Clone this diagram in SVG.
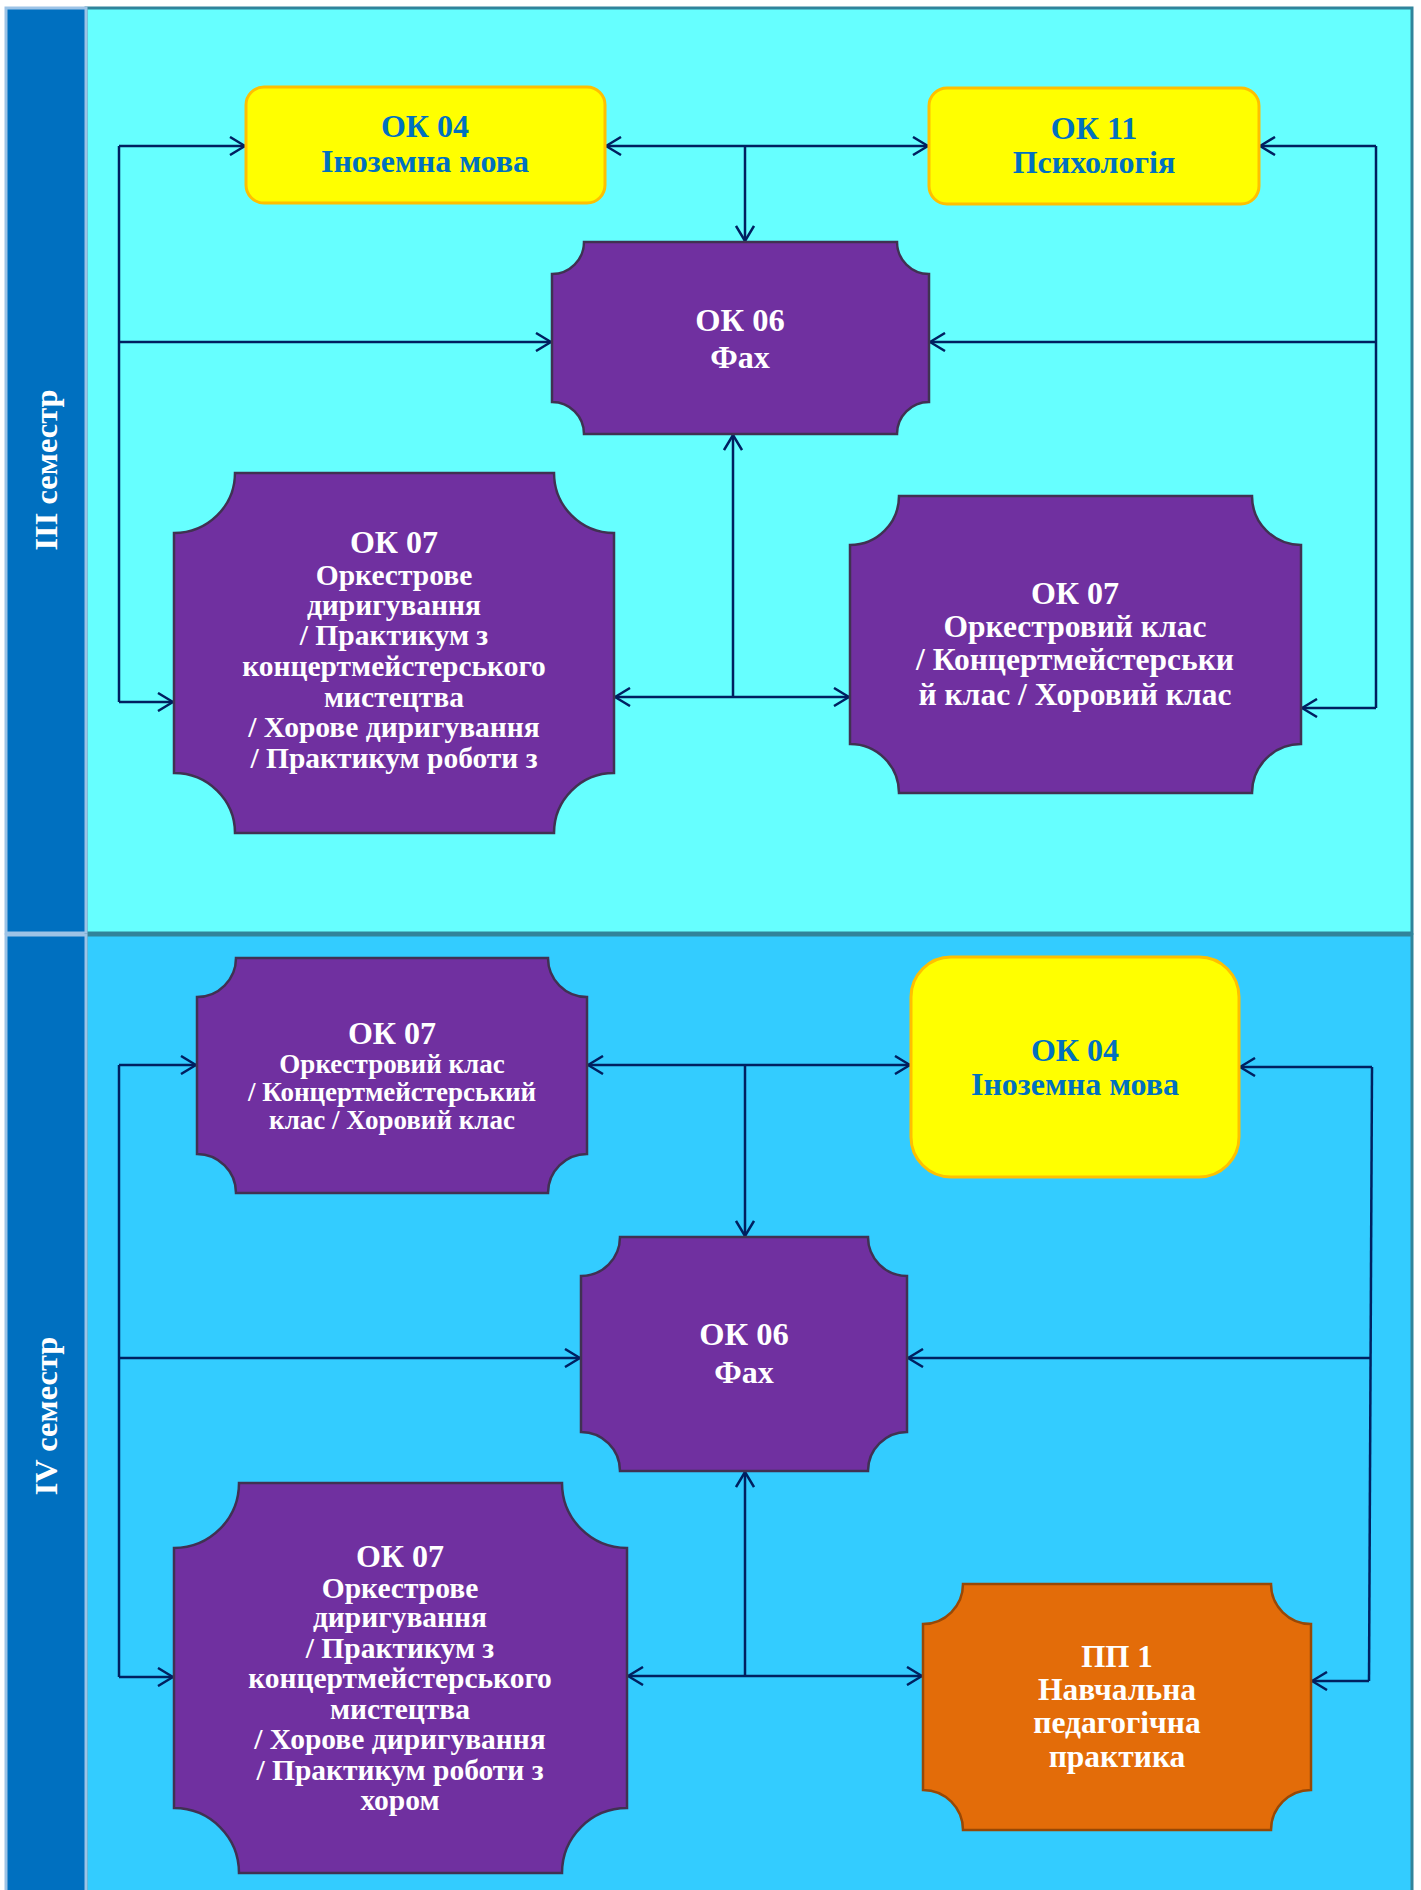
<svg xmlns="http://www.w3.org/2000/svg" width="1421" height="1890" viewBox="0 0 1421 1890">
<style>
.lane{stroke:#9DC3E6;stroke-width:3;fill:#0070C0}
.p1{fill:#66FFFF;stroke:#31849B;stroke-width:3}
.p2{fill:#33CCFF;stroke:#31849B;stroke-width:3}
.lt{font-family:"Liberation Serif","Times New Roman",serif;font-weight:bold;font-size:32.5px;fill:#FFFFFF}
.yel{fill:#FFFF00;stroke:#FFC000;stroke-width:3}
.pur{fill:#7030A0;stroke:#403152;stroke-width:2.5}
.org{fill:#E36C09;stroke:#984806;stroke-width:2.5}
.t{font-family:"Liberation Serif","Times New Roman",serif;font-weight:bold;text-anchor:middle}
.tb{fill:#0070C0}
.tw{fill:#FFFFFF}
.c{fill:none;stroke:#002060;stroke-width:2.5}
</style>
<defs>
<marker id="ah" viewBox="0 0 17 20" refX="17" refY="10" markerWidth="17" markerHeight="20" markerUnits="userSpaceOnUse" orient="auto-start-reverse">
<path d="M1,1 L16,10 L1,19" fill="none" stroke="#002060" stroke-width="2.5"/>
</marker>
</defs>
<rect width="1421" height="1890" fill="#FFFFFF"/>
<g id="lane-3">
<rect class="p1" x="86" y="8" width="1326" height="925"/>
<rect class="lane" x="6" y="8" width="80" height="925"/>
<text class="lt" transform="translate(57,470) rotate(-90)" text-anchor="middle">ІІІ семестр</text>
</g>
<g id="lane-4">
<rect class="p2" x="86" y="935" width="1326" height="960"/>
<rect class="lane" x="6" y="935" width="80" height="960"/>
<text class="lt" transform="translate(57,1416) rotate(-90)" text-anchor="middle">IV семестр</text>
</g>

<g id="connectors">
<path class="c" d="M119,146 V702"/>
<path class="c" d="M119,146 H246" marker-end="url(#ah)"/>
<path class="c" d="M119,342 H552" marker-end="url(#ah)"/>
<path class="c" d="M119,702 H174" marker-end="url(#ah)"/>
<path class="c" d="M605,146 H929" marker-start="url(#ah)" marker-end="url(#ah)"/>
<path class="c" d="M745,146 V242" marker-end="url(#ah)"/>
<path class="c" d="M1376,146 V708"/>
<path class="c" d="M1376,146 H1259" marker-end="url(#ah)"/>
<path class="c" d="M1376,342 H929" marker-end="url(#ah)"/>
<path class="c" d="M1376,708 H1301" marker-end="url(#ah)"/>
<path class="c" d="M614,697 H850" marker-start="url(#ah)" marker-end="url(#ah)"/>
<path class="c" d="M733,697 V434" marker-end="url(#ah)"/>
<path class="c" d="M119,1065 V1677"/>
<path class="c" d="M119,1065 H197" marker-end="url(#ah)"/>
<path class="c" d="M119,1358 H581" marker-end="url(#ah)"/>
<path class="c" d="M119,1677 H174" marker-end="url(#ah)"/>
<path class="c" d="M587,1065 H911" marker-start="url(#ah)" marker-end="url(#ah)"/>
<path class="c" d="M745,1065 V1237" marker-end="url(#ah)"/>
<path class="c" d="M1372,1067 L1369,1681"/>
<path class="c" d="M1372,1067 H1239" marker-end="url(#ah)"/>
<path class="c" d="M1371,1358 H907" marker-end="url(#ah)"/>
<path class="c" d="M1369,1681 H1311" marker-end="url(#ah)"/>
<path class="c" d="M627,1676 H923" marker-start="url(#ah)" marker-end="url(#ah)"/>
<path class="c" d="M745,1676 V1471" marker-end="url(#ah)"/>
</g>

<g id="ok04-a">
<rect class="yel" x="246" y="87" width="359" height="116" rx="18"/>
<text class="t tb" x="425" y="137" font-size="32">ОК 04</text>
<text class="t tb" x="425" y="172" font-size="32">Іноземна мова</text>
</g>
<g id="ok11-a">
<rect class="yel" x="929" y="88" width="330" height="116" rx="18"/>
<text class="t tb" x="1094" y="139" font-size="32">ОК 11</text>
<text class="t tb" x="1094" y="173" font-size="32">Психологія</text>
</g>
<g id="ok06-a">
<path class="pur" d="M584,242 H897 A32,32 0 0 0 929,274 V402 A32,32 0 0 0 897,434 H584 A32,32 0 0 0 552,402 V274 A32,32 0 0 0 584,242 Z"/>
<text class="t tw" x="740" y="331" font-size="32.5">ОК 06</text>
<text class="t tw" x="740" y="368" font-size="32">Фах</text>
</g>
<g id="ok07-a-left">
<path class="pur" d="M235,473 H554 A60,60 0 0 0 614,533 V773 A60,60 0 0 0 554,833 H235 A61,60 0 0 0 174,773 V533 A61,60 0 0 0 235,473 Z"/>
<text class="t tw" x="394" y="553" font-size="32">ОК 07</text>
<text class="t tw" x="394" y="585" font-size="29.5">Оркестрове</text>
<text class="t tw" x="394" y="615" font-size="29.5">диригування</text>
<text class="t tw" x="394" y="645" font-size="29.5">/ Практикум з</text>
<text class="t tw" x="394" y="676" font-size="29.5">концертмейстерського</text>
<text class="t tw" x="394" y="707" font-size="29.5">мистецтва</text>
<text class="t tw" x="394" y="737" font-size="29.5">/ Хорове диригування</text>
<text class="t tw" x="394" y="768" font-size="29.5">/ Практикум роботи з</text>
</g>
<g id="ok07-a-right">
<path class="pur" d="M899,496 H1252 A49,49 0 0 0 1301,545 V744 A49,49 0 0 0 1252,793 H899 A49,49 0 0 0 850,744 V545 A49,49 0 0 0 899,496 Z"/>
<text class="t tw" x="1075" y="604" font-size="32">ОК 07</text>
<text class="t tw" x="1075" y="637" font-size="31.5">Оркестровий клас</text>
<text class="t tw" x="1075" y="670" font-size="31.5">/ Концертмейстерськи</text>
<text class="t tw" x="1075" y="705" font-size="31.5">й клас / Хоровий клас</text>
</g>

<g id="ok07-b-top">
<path class="pur" d="M236,958 H548 A39,39 0 0 0 587,997 V1154 A39,39 0 0 0 548,1193 H236 A39,39 0 0 0 197,1154 V997 A39,39 0 0 0 236,958 Z"/>
<text class="t tw" x="392" y="1044" font-size="32">ОК 07</text>
<text class="t tw" x="392" y="1073" font-size="27">Оркестровий клас</text>
<text class="t tw" x="392" y="1101" font-size="27">/ Концертмейстерський</text>
<text class="t tw" x="392" y="1129" font-size="27">клас / Хоровий клас</text>
</g>
<g id="ok04-b">
<rect class="yel" x="911" y="957" width="328" height="220" rx="40"/>
<text class="t tb" x="1075" y="1061" font-size="32">ОК 04</text>
<text class="t tb" x="1075" y="1095" font-size="32">Іноземна мова</text>
</g>
<g id="ok06-b">
<path class="pur" d="M620,1237 H868 A39,39 0 0 0 907,1276 V1432 A39,39 0 0 0 868,1471 H620 A39,39 0 0 0 581,1432 V1276 A39,39 0 0 0 620,1237 Z"/>
<text class="t tw" x="744" y="1345" font-size="32.5">ОК 06</text>
<text class="t tw" x="744" y="1383" font-size="32">Фах</text>
</g>
<g id="ok07-b-bottom">
<path class="pur" d="M239,1483 H562 A65,65 0 0 0 627,1548 V1808 A65,65 0 0 0 562,1873 H239 A65,65 0 0 0 174,1808 V1548 A65,65 0 0 0 239,1483 Z"/>
<text class="t tw" x="400" y="1567" font-size="32">ОК 07</text>
<text class="t tw" x="400" y="1598" font-size="29.5">Оркестрове</text>
<text class="t tw" x="400" y="1627" font-size="29.5">диригування</text>
<text class="t tw" x="400" y="1658" font-size="29.5">/ Практикум з</text>
<text class="t tw" x="400" y="1688" font-size="29.5">концертмейстерського</text>
<text class="t tw" x="400" y="1719" font-size="29.5">мистецтва</text>
<text class="t tw" x="400" y="1749" font-size="29.5">/ Хорове диригування</text>
<text class="t tw" x="400" y="1780" font-size="29.5">/ Практикум роботи з</text>
<text class="t tw" x="400" y="1810" font-size="29.5">хором</text>
</g>
<g id="pp1">
<path class="org" d="M963,1584 H1271 A40,40 0 0 0 1311,1624 V1790 A40,40 0 0 0 1271,1830 H963 A40,40 0 0 0 923,1790 V1624 A40,40 0 0 0 963,1584 Z"/>
<text class="t tw" x="1117" y="1667" font-size="31">ПП 1</text>
<text class="t tw" x="1117" y="1700" font-size="31.5">Навчальна</text>
<text class="t tw" x="1117" y="1733" font-size="31.5">педагогічна</text>
<text class="t tw" x="1117" y="1767" font-size="31.5">практика</text>
</g>
</svg>
